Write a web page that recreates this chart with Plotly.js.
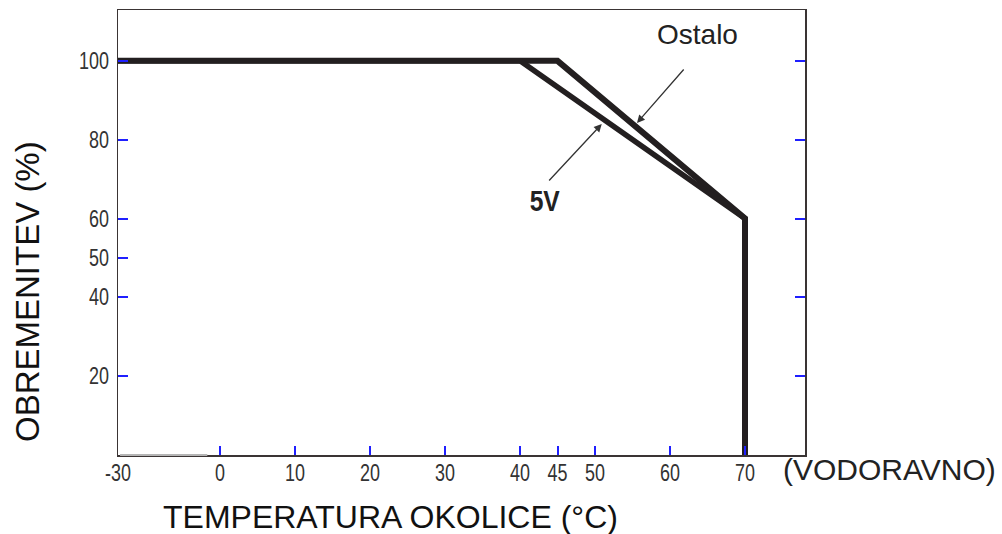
<!DOCTYPE html>
<html>
<head>
<meta charset="utf-8">
<script src="https://cdn.plot.ly/plotly-3.0.1.min.js"></script>
<style>html,body{margin:0;padding:0;background:#fff;}#chart{width:1002px;height:534px;}</style>
</head>
<body>
<div id="chart"></div>
<script>
// ---- data ----
const ostaloTemp = [-30, 45, 70, 70];
const ostaloLoad = [100, 100, 60, 0];
const fiveVTemp = [-30, 40, 70, 70];
const fiveVLoad = [100, 100, 60, 0];
const xTickLabels = [-30, 0, 10, 20, 30, 40, 45, 50, 60, 70];
const yTickLabelsLeft = [20, 40, 50, 60, 80, 100];
const yTicksRight = [20, 40, 60, 80, 100];

// The original chart compresses the span below 0 °C (broken axis).
const BELOW_ZERO = 13.6 / 30;
function axisPos(t) { return t >= 0 ? t : t * BELOW_ZERO; }

const lineColor = '#231f20';
const tickBlue = '#1f1fff';
const tickFont = {family: 'Liberation Sans, Arial, sans-serif', size: 23, color: '#333'};

const traces = [
  {x: ostaloTemp.map(axisPos), y: ostaloLoad, mode: 'lines', name: 'Ostalo',
   line: {color: lineColor, width: 6}, hoverinfo: 'skip'},
  {x: fiveVTemp.map(axisPos), y: fiveVLoad, mode: 'lines', name: '5V',
   line: {color: lineColor, width: 5.5}, hoverinfo: 'skip'},
  {x: fiveVTemp.map(axisPos), y: fiveVLoad, yaxis: 'y2', mode: 'lines',
   line: {width: 0}, opacity: 0, hoverinfo: 'skip', showlegend: false}
];

// helpers to place arrow tips on the lines
function interp(ts, ls, t) {
  for (let i = 0; i < ts.length - 1; i++) {
    if (t >= ts[i] && t <= ts[i + 1] && ts[i + 1] !== ts[i]) {
      return ls[i] + (ls[i + 1] - ls[i]) * (t - ts[i]) / (ts[i + 1] - ts[i]);
    }
  }
  return null;
}
const ostaloArrowT = 55.6, fiveVArrowT = 50.9;

const layout = {
  width: 1002, height: 534,
  margin: {l: 118, r: 197, t: 10, b: 79},
  paper_bgcolor: '#fff', plot_bgcolor: '#fff',
  showlegend: false,
  xaxis: {
    range: [axisPos(-30), 78], showgrid: false, zeroline: false,
    showline: true, mirror: true, linecolor: '#3a3434', linewidth: 1.5,
    tickmode: 'array', tickvals: xTickLabels.map(axisPos), ticktext: xTickLabels.map(String),
    ticks: 'inside', ticklen: 9, tickwidth: 2, tickcolor: tickBlue,
    ticklabelstandoff: -3,
    tickfont: tickFont
  },
  yaxis: {
    range: [0, 112.9], showgrid: false, zeroline: false,
    showline: true, mirror: true, linecolor: '#3a3434', linewidth: 1.5,
    tickmode: 'array', tickvals: yTickLabelsLeft, ticktext: yTickLabelsLeft.map(String),
    ticks: 'inside', ticklen: 10, tickwidth: 2, tickcolor: tickBlue,
    ticklabelstandoff: 3,
    tickfont: tickFont
  },
  yaxis2: {
    range: [0, 112.9], overlaying: 'y', side: 'right', showgrid: false, zeroline: false,
    showline: false, tickmode: 'array', tickvals: yTicksRight, showticklabels: false,
    ticks: 'inside', ticklen: 10, tickwidth: 2, tickcolor: tickBlue
  },
  shapes: [
    {type: 'line', xref: 'paper', yref: 'paper', x0: 0.003, x1: 0.13, y0: 0, y1: 0,
     line: {color: '#b5b5b5', width: 2}}
  ],
  annotations: [
    {x: axisPos(ostaloArrowT), y: interp(ostaloTemp, ostaloLoad, ostaloArrowT) + 1.2, xref: 'x', yref: 'y',
     ax: 48, ay: -55, showarrow: true, arrowhead: 2, arrowsize: 1.2, arrowwidth: 1.3, arrowcolor: '#333', text: ''},
    {x: axisPos(fiveVArrowT), y: interp(fiveVTemp, fiveVLoad, fiveVArrowT) - 1.5, xref: 'x', yref: 'y',
     ax: -54, ay: 58, showarrow: true, arrowhead: 2, arrowsize: 1.2, arrowwidth: 1.3, arrowcolor: '#333', text: ''},
    {text: 'Ostalo', xref: 'paper', yref: 'paper', x: 0.843, y: 0.944, showarrow: false,
     xanchor: 'center', yanchor: 'middle', font: {family: 'Liberation Sans, Arial, sans-serif', size: 28, color: '#222'}},
    {text: '<b>5V</b>', xref: 'paper', yref: 'paper', x: 0.6215, y: 0.571, showarrow: false,
     xanchor: 'center', yanchor: 'middle', font: {family: 'Liberation Sans, Arial, sans-serif', size: 29, color: '#222'}},
    {text: '(VODORAVNO)', xref: 'paper', yref: 'paper', x: 1.1237, y: -0.0337, showarrow: false,
     xanchor: 'center', yanchor: 'middle', font: {family: 'Liberation Sans, Arial, sans-serif', size: 30, color: '#222'}},
    {text: 'TEMPERATURA OKOLICE (°C)', xref: 'paper', yref: 'paper', x: 0.397, y: -0.139, showarrow: false,
     xanchor: 'center', yanchor: 'middle', font: {family: 'Liberation Sans, Arial, sans-serif', size: 32, color: '#111'}},
    {text: 'OBREMENITEV (%)', xref: 'paper', yref: 'paper', x: -0.1325, y: 0.3685, showarrow: false, textangle: -90,
     xanchor: 'center', yanchor: 'middle', font: {family: 'Liberation Sans, Arial, sans-serif', size: 33, color: '#111'}}
  ]
};

// The reference uses a condensed face; squeeze the real text horizontally.
function condense(selector, factor) {
  document.querySelectorAll(selector).forEach(function (el) {
    const w = el.getComputedTextLength();
    if (w > 0) {
      el.setAttribute('textLength', (w * factor).toFixed(2));
      el.setAttribute('lengthAdjust', 'spacingAndGlyphs');
    }
  });
}

Plotly.newPlot('chart', traces, layout, {staticPlot: true, displayModeBar: false}).then(function () {
  condense('#chart .xtick text, #chart .ytick text', 0.78);
  document.querySelectorAll('#chart .annotation-text').forEach(function (el) {
    if (el.textContent === '5V') {
      el.querySelectorAll('tspan').forEach(function (t) {
        const w = t.getComputedTextLength();
        t.setAttribute('textLength', (w * 0.85).toFixed(2));
        t.setAttribute('lengthAdjust', 'spacingAndGlyphs');
      });
    }
  });
});
</script>
</body>
</html>
